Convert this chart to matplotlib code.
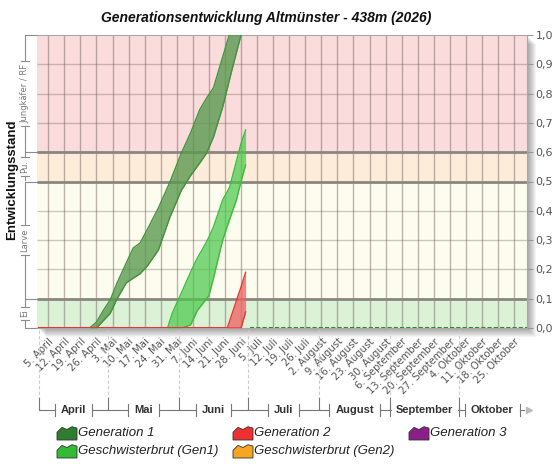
import numpy as np
import pandas as pd
import matplotlib
matplotlib.use("Agg")
import matplotlib.pyplot as plt
import matplotlib.dates as mdates
from matplotlib.patches import Rectangle, Polygon
from matplotlib.lines import Line2D

plt.rcParams["font.family"] = ["Liberation Sans", "DejaVu Sans"]

# ---- data -------------------------------------------------------------
TITLE = "Generationsentwicklung Altmünster - 438m (2026)"
YLABEL = "Entwicklungsstand"

gen1_dates = ["2026-04-23", "2026-04-26", "2026-04-29", "2026-05-02", "2026-05-05",
              "2026-05-09", "2026-05-12", "2026-05-15", "2026-05-18", "2026-05-23",
              "2026-05-28", "2026-06-02", "2026-06-06", "2026-06-10", "2026-06-13",
              "2026-06-16", "2026-06-20", "2026-06-24", "2026-06-28"]
gen1_upper = [0.0, 0.02, 0.06, 0.096, 0.154, 0.222, 0.273, 0.29, 0.334, 0.41,
              0.498, 0.597, 0.666, 0.745, 0.785, 0.82, 0.925, 1.03, 1.13]
gen1_lower = [0.0, 0.0, 0.025, 0.05, 0.10, 0.154, 0.17, 0.185, 0.21, 0.266,
              0.378, 0.47, 0.52, 0.563, 0.597, 0.652, 0.754, 0.88, 1.0]

sib1_dates = ["2026-05-27", "2026-05-29", "2026-06-02", "2026-06-06", "2026-06-09",
              "2026-06-11", "2026-06-14", "2026-06-16", "2026-06-20", "2026-06-23",
              "2026-06-26", "2026-06-28", "2026-06-30"]
sib1_upper = [0.0, 0.05, 0.12, 0.19, 0.24, 0.266, 0.31, 0.345, 0.437, 0.48,
              0.57, 0.63, 0.676]
sib1_lower = [0.0, 0.0, 0.0, 0.01, 0.06, 0.08, 0.11, 0.17, 0.30, 0.37,
              0.437, 0.50, 0.556]

gen2_dates = ["2026-06-22", "2026-06-28", "2026-06-30"]
gen2_upper = [0.0, 0.14, 0.19]
gen2_lower = [0.0, 0.0, 0.055]

red_zero_dates = ["2026-04-01", "2026-06-22"]
green_zero_dates = ["2026-07-02", "2026-10-31"]

stage_bounds = [0.0, 0.1, 0.5, 0.6, 1.0]
stage_names = ["Ei", "Larve", "Pu.", "Jungkäfer / RF"]

month_names = ["April", "Mai", "Juni", "Juli", "August", "September", "Oktober"]
month_starts = ["2026-04-01", "2026-05-01", "2026-06-01", "2026-07-01",
                "2026-08-01", "2026-09-01", "2026-10-01", "2026-10-30"]

week_ticks = pd.date_range("2026-04-05", periods=30, freq="7D")
week_labels = [f"{d.day}. {month_names[d.month - 4]}" for d in week_ticks]

legend_names = ["Generation 1", "Generation 2", "Generation 3",
                "Geschwisterbrut (Gen1)", "Geschwisterbrut (Gen2)"]
legend_colors = ["#2f7d2f", "#ee3030", "#8a1f8a", "#33bb33", "#f5a623"]

# ---- style ------------------------------------------------------------
band_colors = ["#dcf2d7", "#fdfdef", "#fdecda", "#fbdcdd"]
W, H = 557, 466


def fx(px):
    return px / W


def fy(py):
    return 1 - py / H


def d2n(dates):
    return mdates.date2num(pd.to_datetime(dates))


fig = plt.figure(figsize=(W / 100, H / 100), dpi=100)
fig.patch.set_facecolor("white")

ax_l, ax_r, ax_t, ax_b = 37, 527, 35, 328
ax = fig.add_axes([fx(ax_l), fy(ax_b), fx(ax_r) - fx(ax_l), fy(ax_t) - fy(ax_b)])

# drop shadow
for i in range(1, 10):
    fig.add_artist(Rectangle((fx(ax_l + i), fy(ax_b + i)),
                             fx(ax_r) - fx(ax_l), fy(ax_t) - fy(ax_b),
                             transform=fig.transFigure, facecolor="black",
                             edgecolor="none", alpha=0.045, zorder=-1))

x0 = mdates.date2num(pd.Timestamp("2026-04-01"))
ax.set_xlim(x0 - 0.9, x0 + 212.6)
ax.set_ylim(0, 1)

for lo, hi, c in zip(stage_bounds[:-1], stage_bounds[1:], band_colors):
    ax.axhspan(lo, hi, color=c, zorder=0, lw=0)

grid_c = "#5a4a48"
ax.vlines(d2n(week_ticks), 0, 1, color=grid_c, alpha=0.4, lw=1, zorder=1)
ax.hlines(np.arange(0.1, 1.0, 0.1), x0 - 1, x0 + 214, color=grid_c, alpha=0.3, lw=1, zorder=1)
ax.hlines(stage_bounds[1:-1], x0 - 1, x0 + 214, color="#8a8780", lw=2, zorder=2)

# series
xs = d2n(gen1_dates)
ax.fill_between(xs, gen1_lower, gen1_upper, color="#5a9a4f", alpha=0.8, lw=0, zorder=3)
ax.plot(xs, gen1_upper, color="#45913f", lw=1, zorder=4)
ax.plot(xs, gen1_lower, color="#45913f", lw=1, zorder=4)

xs = d2n(sib1_dates)
ax.fill_between(xs, sib1_lower, sib1_upper, color="#4cc84c", alpha=0.72, lw=0, zorder=3)
ax.plot(xs, sib1_upper, color="#3cbd3c", lw=1, zorder=4)
ax.plot(xs, sib1_lower, color="#3cbd3c", lw=1, zorder=4)

xs = d2n(gen2_dates)
ax.fill_between(xs, gen2_lower, gen2_upper, color="#f06060", alpha=0.75, lw=0, zorder=3)
ax.plot(xs, gen2_upper, color="#ee3333", lw=1, zorder=4)
ax.plot(xs, gen2_lower, color="#ee3333", lw=1, zorder=4)

ax.plot(d2n(red_zero_dates), [0, 0], color="#ee3333", lw=1.5, zorder=4)
ax.plot(d2n(green_zero_dates), [0, 0], color="#2f8a2f", lw=1.5, ls=(0, (2, 1)), zorder=4)

# axes styling
for s in ax.spines.values():
    s.set_color("#a8a8a8")
    s.set_linewidth(0.8)
ax.spines["left"].set_visible(False)

ax.yaxis.tick_right()
yt = np.round(np.arange(0, 1.01, 0.1), 1)
ax.set_yticks(yt)
ax.set_yticklabels([f"{v:.1f}".replace(".", ",") for v in yt], family="DejaVu Sans")
ax.tick_params(axis="y", length=4, color="#999999", labelsize=8,
               labelcolor="#555555", pad=2)

ax.set_xticks(d2n(week_ticks))
ax.set_xticklabels(week_labels, rotation=45, ha="right", va="top",
                   rotation_mode="anchor", fontsize=7.2, color="#555555",
                   family="DejaVu Sans")
ax.tick_params(axis="x", length=0, pad=6)

fig.canvas.draw()
renderer = fig.canvas.get_renderer()

# stage brackets (left)
ytr = ax.get_yaxis_transform()
ppx = 1.0 / (ax_r - ax_l)
ppy = 1.0 / (ax_b - ax_t)
xl = (25 - ax_l) * ppx
for lo, hi, name in zip(stage_bounds[:-1], stage_bounds[1:], stage_names):
    mid = (lo + hi) / 2
    t = ax.text(xl, mid, name, rotation=90, ha="center", va="center",
                fontsize=6, color="#777777", transform=ytr, family="DejaVu Sans")
    gap = (t.get_window_extent(renderer).height / 2 + 3) * ppy
    kw = dict(color="#8c8c8c", lw=0.8, transform=ytr, clip_on=False)
    ax.add_line(Line2D([xl, xl], [lo + 0.004, mid - gap], **kw))
    ax.add_line(Line2D([xl, xl], [mid + gap, hi - 0.004], **kw))
    ax.add_line(Line2D([xl - 4 * ppx, xl + 4 * ppx], [mid - gap] * 2, **kw))
    ax.add_line(Line2D([xl - 4 * ppx, xl + 4 * ppx], [mid + gap] * 2, **kw))
for b in stage_bounds:
    ax.add_line(Line2D([xl, 0], [b, b], color="#8c8c8c", lw=0.8,
                       transform=ytr, clip_on=False))

# month brackets (bottom)
xtr = ax.get_xaxis_transform()
yb = -(410 - ax_b) * ppy
yb_top = -(398 - ax_b) * ppy
ms = d2n(month_starts)
day_px = (ax_r - ax_l) / (ax.get_xlim()[1] - ax.get_xlim()[0])
for a, b, name in zip(ms[:-1], ms[1:], month_names):
    mid = (a + b) / 2
    t = ax.text(mid, yb, name, ha="center", va="center", fontsize=8,
                fontweight="bold", color="#333333", transform=xtr)
    gap = (t.get_window_extent(renderer).width / 2 + 6) / day_px
    kw = dict(color="#777777", lw=0.8, transform=xtr, clip_on=False)
    ax.add_line(Line2D([a + 0.5, mid - gap], [yb, yb], **kw))
    ax.add_line(Line2D([mid + gap, b - 0.5], [yb, yb], **kw))
    ax.add_line(Line2D([mid - gap] * 2, [yb - 6 * ppy, yb + 6 * ppy], **kw))
    ax.add_line(Line2D([mid + gap] * 2, [yb - 6 * ppy, yb + 6 * ppy], **kw))
for m in ms[:-1]:
    ax.add_line(Line2D([m, m], [-2 * ppy, yb_top], color="#cccccc", lw=0.8,
                       ls=(0, (3, 2)), transform=xtr, clip_on=False))
    ax.add_line(Line2D([m, m], [yb_top, yb], color="#777777", lw=0.8,
                       transform=xtr, clip_on=False))
ax.add_line(Line2D([ms[-1] + 1.5], [yb], marker=">", color="#bbbbbb",
                   markersize=5, transform=xtr, clip_on=False))

# title / ylabel
fig.text(fx(266), fy(18), TITLE, ha="center", va="center", fontsize=10,
         fontweight="bold", fontstyle="italic", color="#111111")
fig.text(fx(12), fy(180), YLABEL, ha="center", va="center", rotation=90,
         fontsize=9.5, fontweight="bold", color="#111111")

# legend
icon_shape = np.array([[0, 0], [0, 0.55], [0.25, 0.9], [0.5, 0.75],
                       [0.75, 0.95], [1, 0.85], [1, 0]])
legend_pos = [(57, 433), (233, 433), (409, 433), (57, 451), (233, 451)]
for (px, py), name, c in zip(legend_pos, legend_names, legend_colors):
    pts = np.column_stack([fx(px + icon_shape[:, 0] * 20),
                           fy(py + 7 - icon_shape[:, 1] * 14)])
    fig.add_artist(Polygon(pts, closed=True, facecolor=c, edgecolor="#333333",
                           lw=0.6, transform=fig.transFigure))
    fig.text(fx(px + 21), fy(py), name, ha="left", va="center", fontsize=9.5,
             fontstyle="italic", color="#222222")

fig.savefig("out.png", dpi=100)
